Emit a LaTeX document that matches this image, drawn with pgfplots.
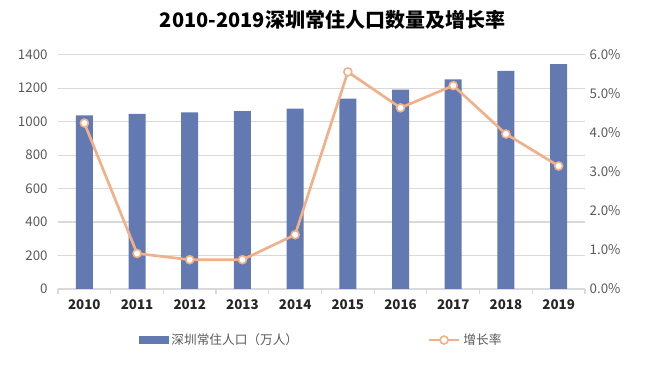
\documentclass[border=0pt]{standalone}
\usepackage{fontspec}
\setmainfont{Noto Sans CJK SC}
\usepackage{pgfplots}
\pgfplotsset{compat=1.18}
\definecolor{barblue}{RGB}{99,121,178}
\definecolor{linepeach}{RGB}{240,176,136}
\definecolor{gridgray}{RGB}{217,217,217}
\definecolor{ticktext}{RGB}{89,89,89}
\begin{document}
\begin{tikzpicture}
\useasboundingbox (-43.5pt,-60.75pt) rectangle (455.25pt,216.75pt);
\pgfplotsset{
  base/.style={
    at={(0,0)}, anchor=south west,
    scale only axis, width=395.25pt, height=175.7pt,
    xmin=-0.5, xmax=9.5,
    /pgf/number format/assume math mode=true,
    tick label style={font=\fontsize{10}{12}\selectfont, text=ticktext},
  }
}
\begin{axis}[base,
  ymin=0, ymax=1400, ytick={0,200,...,1400},
  ymajorgrids, grid style={gridgray, line width=0.9pt},
  axis x line*=bottom, axis y line*=left,
  y axis line style={draw=none},
  x axis line style={gridgray, line width=0.9pt},
  xtick={0,...,9},
  xticklabels={2010,2011,2012,2013,2014,2015,2016,2017,2018,2019},
  x tick label style={font=\fontsize{10}{12}\selectfont\bfseries, text=black!85},
  major x tick style={draw=none},
  minor xtick={-0.5,0.5,...,9.5},
  minor x tick style={gridgray, line width=0.9pt},
  minor tick length=4pt, tick align=outside,
  major y tick style={draw=none},
  /pgf/number format/1000 sep={},
  ytick pos=left,
]
\addplot[ybar, bar width=12.75pt, fill=barblue, draw=none] coordinates {
(0,1037) (1,1047) (2,1055) (3,1063) (4,1078) (5,1138) (6,1191) (7,1253) (8,1303) (9,1344)};
\end{axis}
\begin{axis}[base,
  ymin=0, ymax=6, ytick={0,1,...,6},
  axis y line*=right, axis x line=none,
  y axis line style={draw=none},
  major y tick style={draw=none},
  yticklabel={\pgfmathprintnumber[fixed,fixed zerofill,precision=1]{\tick}\%},
  legend style={at={(0.5,-0.218)}, anchor=center, draw=none, fill=none,
    font=\fontsize{9.5}{11}\selectfont, text=ticktext, legend columns=2,
    /tikz/every even column/.append style={column sep=95pt}},
]
\addlegendimage{area legend, legend image code/.code={\fill[barblue] (0pt,-2.7pt) rectangle (22pt,2.7pt);}}
\addlegendentry{深圳常住人口（万人）}
\addplot[linepeach, line width=2pt, mark=*, mark size=3pt,
  mark options={fill=white, draw=linepeach, line width=1.2pt},
  legend image code/.code={\draw[linepeach, line width=2pt] (0pt,0pt) -- (23pt,0pt);
    \draw[linepeach, fill=white, line width=1.2pt] (11.5pt,0pt) circle (3pt);}]
coordinates {
(0,4.25) (1,0.91) (2,0.75) (3,0.75) (4,1.39) (5,5.56) (6,4.64) (7,5.21) (8,3.97) (9,3.15)};
\addlegendentry{增长率}
\end{axis}
\node[font=\fontsize{15}{18}\selectfont\bfseries, text=black] at (205.9pt,201.75pt) {2010-2019深圳常住人口数量及增长率};
\end{tikzpicture}
\end{document}
